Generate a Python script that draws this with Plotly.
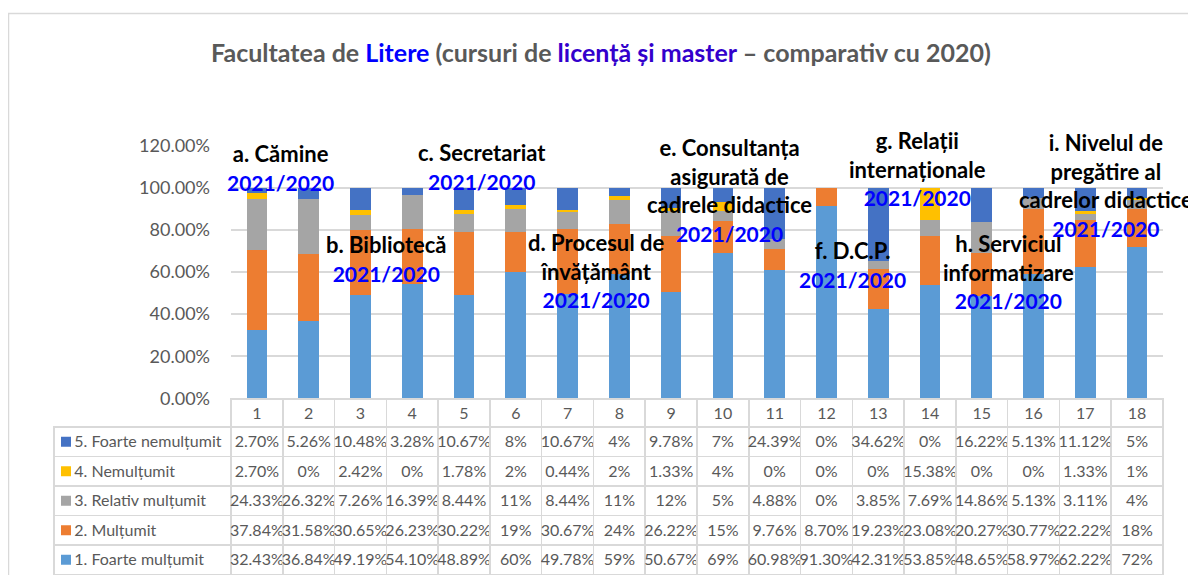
import plotly.graph_objects as go

# figure is placed by the page at an 8px body margin; coordinates below are in
# reference-image pixels and converted with px()/py().
OFF = 8
W, H = 1188, 567
FONT = "Lato"

categories = list(range(1, 18 + 1))
series_names = ["1. Foarte mulțumit", "2. Mulțumit", "3. Relativ mulțumit",
                "4. Nemulțumit", "5. Foarte nemulțumit"]
colors = ["#5B9BD5", "#ED7D31", "#A5A5A5", "#FFC000", "#4472C4"]

foarte_multumit = [32.43, 36.84, 49.19, 54.10, 48.89, 60, 49.78, 59, 50.67, 69, 60.98, 91.30, 42.31, 53.85, 48.65, 58.97, 62.22, 72]
multumit = [37.84, 31.58, 30.65, 26.23, 30.22, 19, 30.67, 24, 26.22, 15, 9.76, 8.70, 19.23, 23.08, 20.27, 30.77, 22.22, 18]
relativ_multumit = [24.33, 26.32, 7.26, 16.39, 8.44, 11, 8.44, 11, 12, 5, 4.88, 0, 3.85, 7.69, 14.86, 5.13, 3.11, 4]
nemultumit = [2.70, 0, 2.42, 0, 1.78, 2, 0.44, 2, 1.33, 4, 0, 0, 0, 15.38, 0, 0, 1.33, 1]
foarte_nemultumit = [2.70, 5.26, 10.48, 3.28, 10.67, 8, 10.67, 4, 9.78, 7, 24.39, 0, 34.62, 0, 16.22, 5.13, 11.12, 5]
series = [foarte_multumit, multumit, relativ_multumit, nemultumit, foarte_nemultumit]

# overlaid labels (text, x-center px, y-center px)
labels = [
    ("a. Cămine", 280, 167),
    ("b. Bibliotecă", 386, 258),
    ("c. Secretariat", 482, 166),
    ("d. Procesul de<br>învățământ", 596, 270),
    ("e. Consultanța<br>asigurată de<br>cadrele didactice", 729, 190),
    ("f. D.C.P.", 852, 265),
    ("g. Relații<br>internaționale", 917, 168),
    ("h. Serviciul<br>informatizare", 1008, 271),
    ("i. Nivelul de<br>pregătire al<br>cadrelor didactice", 1106, 185),
]
year_label = "2021/2020"


def px(x):
    return (x - OFF) / W


def py(y):
    return 1 - (y - OFF) / H


def fmt(v):
    return f"{v:.0f}%" if abs(v - round(v)) < 1e-9 else f"{v:.2f}%"


fig = go.Figure()
for name, vals, col in zip(series_names, series, colors):
    fig.add_trace(go.Bar(x=categories, y=[v / 100 for v in vals], name=name,
                         marker=dict(color=col, line=dict(width=0)),
                         width=0.4, showlegend=False, xaxis="x", yaxis="y"))

# data table
NB = "\u00a0"
label_cells = [NB * 3 + name.replace(" ", NB) for name in series_names[::-1]]
cols = [label_cells]
for i in range(len(categories)):
    cols.append([fmt(s[i]) for s in series[::-1]])

grid = "#D9D9D9"
CLEAR = "rgba(0,0,0,0)"
TABLE_TOP = 399
HEAD_H = 28
ROW_H = 29.5
fig.add_trace(go.Table(
    domain=dict(x=[px(54), px(1163)], y=[0, py(TABLE_TOP)]),
    columnwidth=[177] + [51.78] * len(categories),
    header=dict(values=[""] + [str(c) for c in categories],
                height=HEAD_H,
                fill=dict(color=[CLEAR] + ["white"] * len(categories)),
                line=dict(color=[CLEAR] + [grid] * len(categories), width=1.5),
                align="center",
                font=dict(family=FONT, size=16, color="#595959")),
    cells=dict(values=cols, height=ROW_H,
               fill=dict(color=[CLEAR] + ["white"] * len(categories)),
               line=dict(color=grid, width=1.5),
               align=["left"] + ["center"] * len(categories),
               font=dict(family=FONT, size=16, color="#595959")),
))

# legend keys (small squares) in the table's first column
shapes = []
for k, col in enumerate(colors[::-1]):
    yc = TABLE_TOP + HEAD_H + ROW_H * (k + 0.5)
    shapes.append(dict(type="rect", xref="paper", yref="paper",
                       x0=px(61), x1=px(71), y0=py(yc + 5), y1=py(yc - 5),
                       fillcolor=col, line=dict(width=0), layer="below"))
shapes.append(dict(type="rect", xref="paper", yref="paper", x0=px(8.5), x1=px(1192.5),
                   y0=py(600), y1=py(13.5), line=dict(color="#D9D9D9", width=1.5),
                   fillcolor=CLEAR, layer="below"))

annotations = []
for text, x, y in labels:
    annotations.append(dict(
        x=px(x), y=py(y), xref="paper", yref="paper", xanchor="center", yanchor="middle",
        text=f"<b>{text}<br><span style=\"color:#0000FF;font-size:21px\">{year_label}</span></b>",
        showarrow=False, align="center",
        font=dict(family=FONT, size=22, color="black")))

title = ('<b>Facultatea de <span style="color:#0000FF">Litere</span> (cursuri de '
         '<span style="color:#3300CC">licență și master</span> – comparativ cu 2020)</b>')
annotations.append(dict(x=px(601), y=py(52), xref="paper", yref="paper",
                        xanchor="center", yanchor="middle", text=title, showarrow=False,
                        font=dict(family=FONT, size=25, color="#595959")))

fig.update_layout(
    width=W, height=H, autosize=False,
    margin=dict(l=0, r=0, t=0, b=0, pad=0, autoexpand=False),
    paper_bgcolor="white", plot_bgcolor="white",
    barmode="stack",
    xaxis=dict(domain=[px(231), px(1163)], range=[0.5, 18.5], showticklabels=False,
               showgrid=False, zeroline=False, ticks="", automargin=False),
    yaxis=dict(domain=[py(398.5), py(145.5)], range=[0, 1.2], dtick=0.2, tick0=0,
               tickformat=".2%", showgrid=True, gridcolor=grid, gridwidth=1.5,
               zeroline=True, zerolinecolor=grid, zerolinewidth=1.5, ticks="",
               ticklabelstandoff=20, automargin=False,
               tickfont=dict(family=FONT, size=18, color="#595959")),
    annotations=annotations,
    shapes=shapes,
)

fig.write_html("out.html")
